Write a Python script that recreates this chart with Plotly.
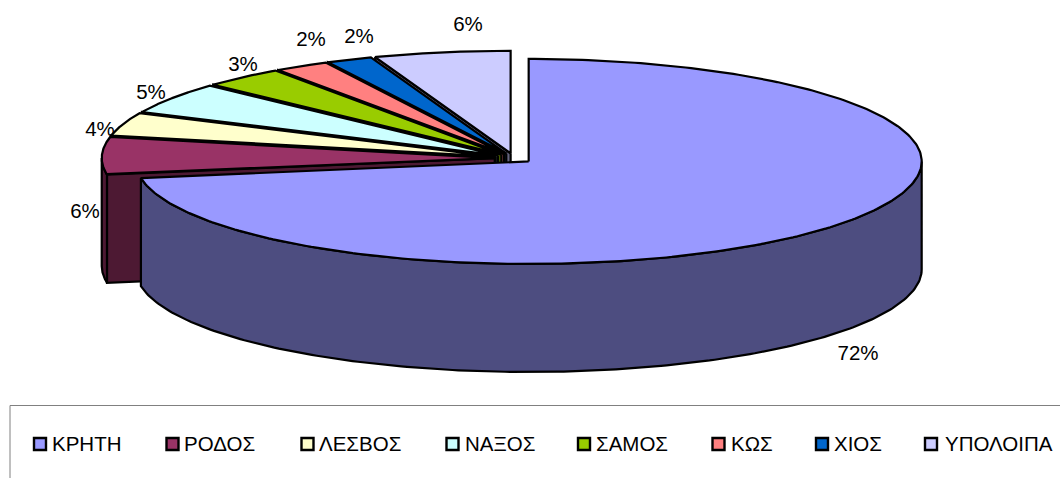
import numpy as np
import plotly.graph_objects as go

# Data
categories = ["ΚΡΗΤΗ", "ΡΟΔΟΣ", "ΛΕΣΒΟΣ", "ΝΑΞΟΣ", "ΣΑΜΟΣ", "ΚΩΣ", "ΧΙΟΣ", "ΥΠΟΛΟΙΠΑ"]
shares = [72.4, 5.9, 3.65, 4.95, 3.35, 2.25, 1.9, 5.6]

# Styles
colors = ["#9999FF", "#993366", "#FFFFCC", "#CCFFFF", "#99CC00", "#FF8080", "#0066CC", "#CCCCFF"]
sides = ["#4D4D80", "#4D1933", "#808066", "#668080", "#4D6600", "#804040", "#003366", "#666680"]

# Layout of the projected pie, in page pixels
CX, CY = 514.0, 158.2
RX, RY = 393.0, 102.5
EXPLODE = 0.049
DEPTH = 108.0
LW = 2.2
FONT = "Liberation Sans, Arial, sans-serif"
FS = 20.5
label_xy = [(858, 355), (85, 213), (100, 131), (151, 94), (243, 66), (311, 41), (359, 38), (468, 26)]
legend_marker_x = [40, 172.5, 307.5, 452.5, 584, 718.5, 822, 931]
legend_text_x = [52, 184, 319, 465, 596, 731, 834, 945]
LEGEND_MARKER_Y = 444
LEGEND_TEXT_Y = 446

fig = go.Figure()


def poly(xs, ys, fill):
    xs = list(xs) + [xs[0]]
    ys = list(ys) + [ys[0]]
    fig.add_trace(go.Scatter(x=xs, y=ys, mode="lines", fill="toself", fillcolor=fill,
                             line=dict(color="black", width=LW), hoverinfo="skip", showlegend=False))


total = sum(shares)
edges = np.concatenate([[0], np.cumsum(shares)]) / total * 360.0

# Paint back to front: last slice first, the large front slice last
for i in range(len(shares) - 1, -1, -1):
    t1, t2 = edges[i], edges[i + 1]
    tm = np.radians((t1 + t2) / 2)
    cx = CX + EXPLODE * RX * np.sin(tm)
    cy = CY - EXPLODE * RY * np.cos(tm)

    def pt(t):
        r = np.radians(t)
        return cx + RX * np.sin(r), cy - RY * np.cos(r)

    # radial side face on the opening edge, when it faces the viewer
    if np.sin(np.radians(t1)) < -1e-6:
        px, py = pt(t1)
        poly([cx, px, px, cx], [cy, py, py + DEPTH, cy + DEPTH], sides[i])

    # outer wall where the rim is on the front half
    a, b = max(t1, 90.0), min(t2, 270.0)
    if b > a:
        ts = np.linspace(a, b, 200)
        ax, ay = pt(ts)
        poly(np.concatenate([ax, ax[::-1]]), np.concatenate([ay, ay[::-1] + DEPTH]), sides[i])

    # top surface
    ts = np.linspace(t1, t2, 300)
    ax, ay = pt(ts)
    poly(np.concatenate([[cx], ax]), np.concatenate([[cy], ay]), colors[i])

# Percent labels
label_texts = [f"{int(v / total * 100 + 0.5)}%" for v in shares]
fig.add_trace(go.Scatter(x=[p[0] for p in label_xy], y=[p[1] for p in label_xy], mode="text",
                         text=label_texts, textposition="middle center",
                         textfont=dict(family=FONT, size=FS, color="black"),
                         hoverinfo="skip", showlegend=False))

# Legend frame (open on the right and bottom, as it runs off the page)
fig.add_trace(go.Scatter(x=[10, 10, 1060], y=[478, 405.5, 405.5], mode="lines",
                         line=dict(color="#808080", width=1), hoverinfo="skip", showlegend=False))

# Legend entries
fig.add_trace(go.Scatter(x=legend_marker_x, y=[LEGEND_MARKER_Y] * len(categories), mode="markers",
                         marker=dict(symbol="square", size=12, color=colors, line=dict(color="black", width=2.4)),
                         hoverinfo="skip", showlegend=False))
fig.add_trace(go.Scatter(x=legend_text_x, y=[LEGEND_TEXT_Y] * len(categories), mode="text", text=categories,
                         textposition="middle right",
                         textfont=dict(family=FONT, size=FS, color="black"),
                         hoverinfo="skip", showlegend=False))

fig.update_layout(
    width=1060, height=478, margin=dict(l=0, r=0, t=0, b=0),
    paper_bgcolor="white", plot_bgcolor="white", showlegend=False,
    xaxis=dict(range=[0, 1060], visible=False, fixedrange=True),
    yaxis=dict(range=[478, 0], visible=False, fixedrange=True),
)
fig.write_html("out.html", config={"displayModeBar": False},
               post_script="document.body.style.margin='0';")
